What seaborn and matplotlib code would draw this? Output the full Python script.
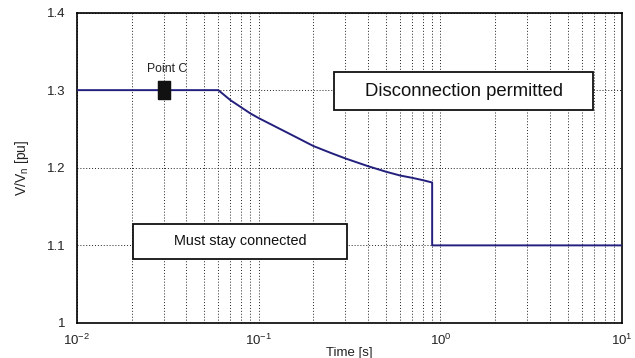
import matplotlib
matplotlib.use("Agg")
import matplotlib.pyplot as plt
import seaborn as sns
import pandas as pd
from matplotlib.patches import Rectangle
from matplotlib.ticker import LogLocator

# ---- data ----
time_s = [0.01, 0.03, 0.06, 0.07, 0.08, 0.09, 0.1, 0.15, 0.2, 0.25, 0.3, 0.4, 0.5,
          0.6, 0.7, 0.8, 0.9, 0.9, 10.0]
volt_pu = [1.300, 1.300, 1.300, 1.287, 1.278, 1.270, 1.264, 1.243, 1.228, 1.219, 1.212,
           1.202, 1.195, 1.190, 1.187, 1.184, 1.181, 1.100, 1.100]
point_c_t = [0.03]
point_c_v = [1.30]
point_c_label = "Point C"
box_upper_label = "Disconnection permitted"
box_lower_label = "Must stay connected"
y_ticks = [1.0, 1.1, 1.2, 1.3, 1.4]
y_tick_labels = ["1", "1.1", "1.2", "1.3", "1.4"]
x_label = "Time [s]"
y_label = r"V/V$_\mathregular{n}$ [pu]"

sns.set_style("white")
plt.rcParams["font.family"] = ["Liberation Sans", "DejaVu Sans"]
plt.rcParams["mathtext.fontset"] = "custom"
plt.rcParams["mathtext.rm"] = "Liberation Sans"
plt.rcParams["mathtext.it"] = "Liberation Sans:italic"

fig = plt.figure(figsize=(6.35, 3.58), dpi=100)
ax = fig.add_axes([0.121, 0.0978, 0.859, 0.8672])

df = pd.DataFrame({"t": time_s, "v": volt_pu})
sns.lineplot(data=df, x="t", y="v", sort=False, estimator=None,
             color="#231f7d", linewidth=1.4, ax=ax, zorder=4)

rect_marker = [(-0.33, -0.5), (0.33, -0.5), (0.33, 0.5), (-0.33, 0.5), (-0.33, -0.5)]
dfc = pd.DataFrame({"t": point_c_t, "v": point_c_v})
sns.scatterplot(data=dfc, x="t", y="v", marker=rect_marker, s=170,
                color="#111111", edgecolor="#111111", ax=ax, zorder=5)

ax.set_xscale("log")
ax.set_xlim(1e-2, 1e1)
ax.set_ylim(1.0, 1.4)
ax.set_yticks(y_ticks)
ax.set_yticklabels(y_tick_labels)
ax.xaxis.set_minor_locator(LogLocator(base=10, subs=range(2, 10), numticks=20))

ax.grid(True, which="both", axis="x", color="#222222", linestyle=(0, (1, 2)), linewidth=0.7)
ax.grid(True, which="major", axis="y", color="#222222", linestyle=(0, (1, 2)), linewidth=0.7)
ax.set_axisbelow(True)

ax.tick_params(axis="both", which="both", length=0, labelsize=9.5, colors="#222222")
ax.tick_params(axis="x", pad=7)
ax.tick_params(axis="y", pad=8)
for s in ax.spines.values():
    s.set_color("black")
    s.set_linewidth(1.2)

ax.set_xlabel(x_label, fontsize=9.5, labelpad=-1, color="#222222")
ax.set_ylabel(y_label, fontsize=10, color="#222222")
ax.yaxis.set_label_coords(-0.084, 0.5)

ax.annotate(point_c_label, xy=(point_c_t[0], point_c_v[0]), xytext=(4, 21),
            textcoords="offset pixels", ha="center", va="center",
            fontsize=8.8, color="#222222")

# annotation boxes
ax.add_patch(Rectangle((0.4716, 0.686), 0.4752, 0.1226, transform=ax.transAxes,
                       facecolor="white", edgecolor="#111111", linewidth=1.3, zorder=6))
ax.text(0.709, 0.747, box_upper_label, transform=ax.transAxes, ha="center", va="center",
        fontsize=13.3, color="#111111", zorder=7)
ax.add_patch(Rectangle((0.1028, 0.206), 0.3926, 0.113, transform=ax.transAxes,
                       facecolor="white", edgecolor="#111111", linewidth=1.3, zorder=6))
ax.text(0.299, 0.2625, box_lower_label, transform=ax.transAxes, ha="center", va="center",
        fontsize=10.4, color="#111111", zorder=7)

fig.savefig("out.png", dpi=100, facecolor="white")
